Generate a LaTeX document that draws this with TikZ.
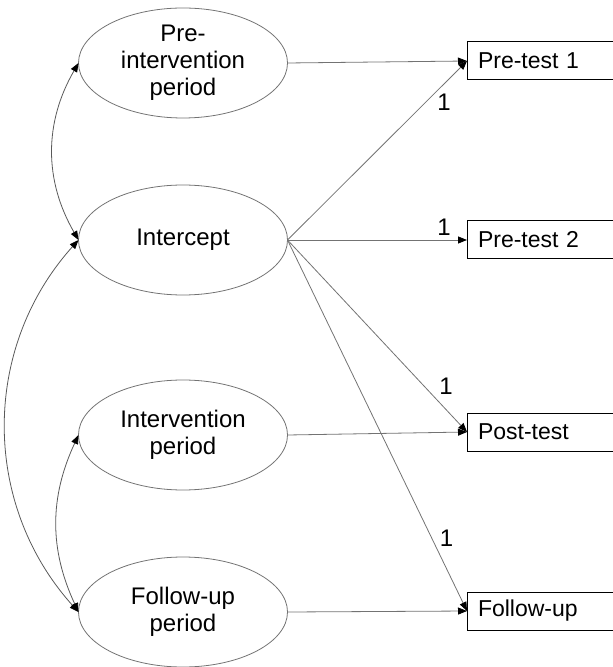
\documentclass[tikz,border=0pt]{standalone}
\usepackage{fontspec}
\setmainfont{Liberation Sans}
\usetikzlibrary{shapes.geometric,arrows.meta,positioning}
\begin{document}
\begin{tikzpicture}[x=0.5pt,y=-0.5pt,
		latent/.style={ellipse, draw=black!55, line width=0.4pt, minimum width=104.5pt, minimum height=55pt, inner sep=0pt, outer sep=0pt, align=center, font=\fontsize{12}{13.5}\selectfont},
		manifest/.style={rectangle, draw=black, line width=0.5pt, anchor=west, minimum height=19pt, text width=70pt, inner xsep=5.5pt, outer sep=0pt, align=left, font=\fontsize{11.5}{13}\selectfont},
		reg/.style={draw=black!55, line width=0.4pt, -{Triangle[length=4.5pt,width=3.5pt,color=black]}},
		cov/.style={draw=black!65, line width=0.4pt, {Triangle[length=4.5pt,width=3.5pt,color=black]}-{Triangle[length=4.5pt,width=3.5pt,color=black]}},
		loading/.style={inner sep=0pt, font=\fontsize{12}{13}\selectfont}]
			\useasboundingbox (0,0) rectangle (612,667);
			% latent factors
			\node [latent] (prei) at (183,63) {Pre-\\intervention\\period};
			\node [latent] (icpt) at (183,240) {Intercept};
			\node [latent] (intv) at (183,435) {Intervention\\period};
			\node [latent] (fupp) at (183,612) {Follow-up\\period};
			% measurements
			\node [manifest] (pt1) at (467,61) {Pre-test 1};
			\node [manifest] (pt2) at (467,240) {Pre-test 2};
			\node [manifest] (post) at (467,432) {Post-test};
			\node [manifest] (fu) at (467,611) {Follow-up};
			% paths
			\draw [reg] (prei.east) -- (pt1.west);
			\draw [reg] (intv.east) -- (post.west);
			\draw [reg] (fupp.east) -- (fu.west);
			\draw [reg] (icpt.east) -- node [loading, pos=0.771, right=5.5pt] (l1) {1} (pt1.west);
			\draw [reg] (icpt.east) -- node [loading, pos=0.872, above=2pt] (l2) {1} (pt2.west);
			\draw [reg] (icpt.east) -- node [loading, pos=0.883, above=7.5pt] (l3) {1} (post.west);
			\draw [reg] (icpt.east) -- node [loading, pos=0.803, right=3.9pt] (l4) {1} (fu.west);
			% covariances
			\draw [cov] (prei.west) to [bend right=30] (icpt.west);
			\draw [cov] (icpt.west) to [bend right=42] (fupp.west);
			\draw [cov] (intv.west) to [bend right=25] (fupp.west);
		\end{tikzpicture}
\end{document}
